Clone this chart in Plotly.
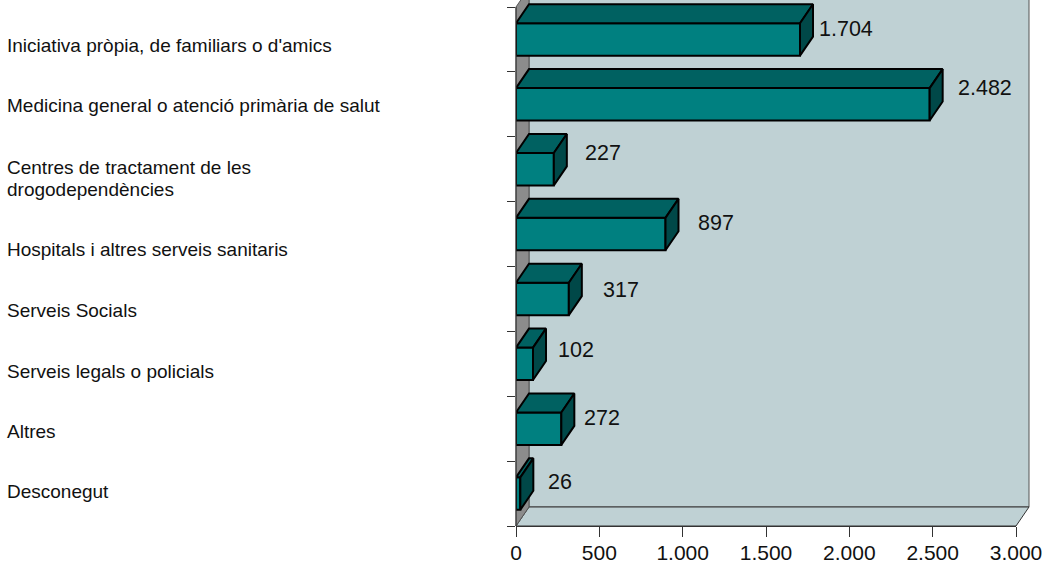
import plotly.graph_objects as go

categories = ["Iniciativa pròpia, de familiars o d'amics",
              "Medicina general o atenció primària de salut",
              "Centres de tractament de les<br>drogodependències",
              "Hospitals i altres serveis sanitaris",
              "Serveis Socials",
              "Serveis legals o policials",
              "Altres",
              "Desconegut"]
values = [1704, 2482, 227, 897, 317, 102, 272, 26]
value_labels = ["1.704", "2.482", "227", "897", "317", "102", "272", "26"]
x_ticks = [0, 500, 1000, 1500, 2000, 2500, 3000]
x_tick_labels = ["0", "500", "1.000", "1.500", "2.000", "2.500", "3.000"]

# Layout / style constants
W, H = 1045, 563
L, R, B = 516, 1016, 526
XMAX, NCAT = 3000, len(categories)
CAT_PX = 64.875  # height of one category band in pixels
YMAX = B / CAT_PX  # the plot area reaches the top of the page
DX = 78          # depth in value units
DY = 0.293       # depth in category units
HALF = 0.25      # half bar thickness
FRONT, TOP, SIDE = "#008080", "#006161", "#004848"
WALL, GRAY, EDGE = "#BFD1D4", "#8C8C8C", "#333333"
FONT = "Liberation Sans, Arial, sans-serif"
LABEL_Y_PX = [46, 106, 168, 250, 310, 371, 431, 491]
LABEL_LINE_PX = 21
VALUE_SHIFT_X = [17, 26, 29, 30, 32, 23, 21, 26]
VALUE_SHIFT_Y = [10, 16, 16, 11, 9, 14, 11, 12]

centers = [NCAT - 0.5 - i for i in range(NCAT)]


def px(v):
    return v / XMAX


def py(c):
    return c / YMAX


def path(points):
    return "M " + " L ".join(f"{px(a)} {py(b)}" for a, b in points) + " Z"


wall_shapes = [
    dict(type="path", xref="paper", yref="paper", layer="below",
         path=path([(DX, DY), (XMAX + DX, DY), (XMAX + DX, NCAT + DY), (DX, NCAT + DY)]),
         fillcolor=WALL, line=dict(color="#555555", width=1)),
    dict(type="path", xref="paper", yref="paper", layer="below",
         path=path([(0, 0), (XMAX, 0), (XMAX + DX, DY), (DX, DY)]),
         fillcolor=WALL, line=dict(color="#333333", width=1)),
    dict(type="path", xref="paper", yref="paper", layer="below",
         path=path([(0, 0), (DX, DY), (DX, NCAT + DY), (0, NCAT)]),
         fillcolor=GRAY, line=dict(color="#555555", width=1)),
    dict(type="line", xref="paper", yref="paper", layer="above",
         x0=0, x1=0, y0=py(0), y1=py(NCAT), line=dict(color=EDGE, width=1)),
]

fig = go.Figure()
fig.add_trace(go.Bar(x=values, y=centers, orientation="h", width=2 * HALF,
                     marker=dict(color=FRONT, line=dict(color="black", width=2)),
                     cliponaxis=False, hoverinfo="skip", showlegend=False))

for v, c in zip(values, centers):
    fig.add_trace(go.Scatter(
        x=[0, v, v + DX, DX, 0], y=[c + HALF, c + HALF, c + HALF + DY, c + HALF + DY, c + HALF],
        mode="lines", fill="toself", fillcolor=TOP, line=dict(color="black", width=2),
        cliponaxis=False, hoverinfo="skip", showlegend=False))
    fig.add_trace(go.Scatter(
        x=[v, v + DX, v + DX, v, v], y=[c - HALF, c - HALF + DY, c + HALF + DY, c + HALF, c - HALF],
        mode="lines", fill="toself", fillcolor=SIDE, line=dict(color="black", width=2),
        cliponaxis=False, hoverinfo="skip", showlegend=False))

annotations = []
for v, c, t, sx, sy in zip(values, centers, value_labels, VALUE_SHIFT_X, VALUE_SHIFT_Y):
    annotations.append(dict(x=v, y=c, text=t, xanchor="left", yanchor="middle",
                            xshift=sx, yshift=sy, showarrow=False,
                            font=dict(family=FONT, size=21.5, color="#111111")))
for text, ypx in zip(categories, LABEL_Y_PX):
    for j, line in enumerate(text.split("<br>")):
        annotations.append(dict(xref="paper", yref="paper",
                                x=(7 - L) / (R - L), y=(B - ypx - j * LABEL_LINE_PX) / B,
                                text=line, xanchor="left", yanchor="middle", showarrow=False,
                                xshift=-2, font=dict(family=FONT, size=19, color="#111111")))

fig.update_layout(
    width=W, height=H, paper_bgcolor="white", plot_bgcolor="rgba(0,0,0,0)",
    margin=dict(l=L, r=W - R, t=0, b=H - B, pad=0, autoexpand=False),
    shapes=wall_shapes, annotations=annotations, showlegend=False,
    xaxis=dict(range=[0, XMAX], tickmode="array", tickvals=x_ticks, ticktext=x_tick_labels,
               ticks="outside", ticklen=10, tickcolor=EDGE, showgrid=False, zeroline=False,
               showline=True, linecolor=EDGE, linewidth=1, automargin=False,
               ticklabelstandoff=-2,
               tickfont=dict(family=FONT, size=21, color="#111111")),
    yaxis=dict(range=[0, YMAX], tickmode="array", tickvals=list(range(NCAT + 1)),
               showticklabels=False, ticks="outside", ticklen=8, tickcolor=EDGE, automargin=False,
               showgrid=False, zeroline=False, showline=False),
)
fig.write_html("out.html", config=dict(displayModeBar=False),
               post_script="document.body.style.margin='0';")
